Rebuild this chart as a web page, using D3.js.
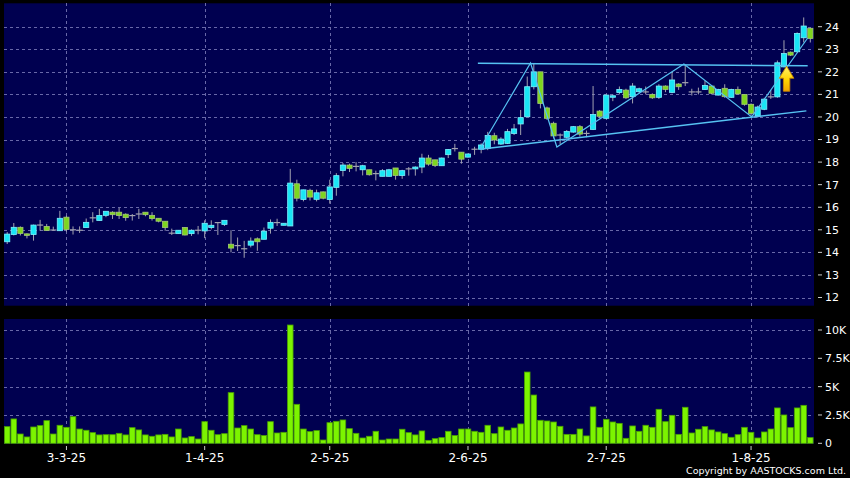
<!DOCTYPE html>
<html><head><meta charset="utf-8">
<script src="https://cdn.jsdelivr.net/npm/d3@7"></script>
<style>body{margin:0;background:#000;}svg{display:block;}</style>
</head><body>
<svg id="c" width="850" height="478"></svg>
<script>
// ---- data ----
const opens  = [14.47,14.79,15.11,14.82,14.79,15.21,15.15,14.99,14.96,15.56,15.0,14.98,15.1,15.53,15.41,15.64,15.78,15.78,15.69,15.63,15.7,15.78,15.64,15.51,15.38,
14.85,14.83,15.1,14.83,14.98,14.95,15.1,15.32,15.24,14.36,14.3,14.16,14.32,14.6,14.58,15.07,15.32,15.2,15.17,17.04,16.34,16.75,16.35,16.68,16.34,
16.88,17.63,17.87,17.81,17.66,17.66,17.49,17.37,17.37,17.74,17.41,17.7,17.7,17.78,18.18,18.1,17.84,18.33,18.6,18.44,18.22,
18.57,18.57,18.6,19.17,18.8,18.83,19.27,19.69,20.01,21.34,22.0,20.4,19.72,19.2,19.1,19.33,19.57,19.27,19.45,20.26,19.94,20.88,21.08,
21.19,20.9,21.12,21.11,21.0,20.87,21.37,21.09,21.46,21.52,21.11,21.11,21.22,21.37,20.97,21.27,20.87,21.22,21.0,20.56,
20.04,20.34,20.89,20.89,22.22,22.87,22.89,23.51,23.93];
const highs  = [14.9,15.3,15.15,14.84,15.23,15.44,15.26,15.14,15.84,15.63,15.15,15.15,15.5,15.78,15.93,15.82,15.82,15.97,15.73,15.7,15.93,15.78,15.78,15.51,15.38,
15.05,14.98,15.12,15.02,15.17,15.42,15.42,15.32,15.42,14.98,14.66,14.51,14.66,14.66,15.1,15.46,15.49,15.29,17.7,17.22,16.78,16.82,16.78,16.7,17.22,
17.51,17.96,17.93,18.0,17.88,17.66,17.62,17.69,17.7,17.74,17.66,17.78,17.81,18.37,18.32,18.1,18.2,18.58,18.81,18.44,18.38,
18.68,18.83,19.34,19.3,19.1,19.47,19.69,20.31,21.79,22.38,22.0,20.46,19.79,19.27,19.42,19.6,19.64,19.4,21.37,20.31,21.0,21.0,21.35,
21.25,21.5,21.3,21.35,21.05,21.45,21.4,22.0,21.5,22.3,21.25,21.3,21.6,21.4,21.25,21.45,21.25,21.35,21.0,20.6,
20.5,20.85,21.2,22.5,23.4,22.9,23.75,24.41,23.95];
const lows   = [14.37,14.75,14.75,14.62,14.52,14.96,14.96,14.96,14.96,14.92,14.79,14.86,15.1,15.33,15.41,15.56,15.48,15.48,15.4,15.41,15.48,15.6,15.41,15.33,14.96,
14.77,14.83,14.75,14.73,14.8,14.63,15.02,14.77,15.17,14.0,14.06,13.76,14.22,14.07,14.58,14.83,15.17,15.2,15.17,16.26,16.26,16.3,16.26,16.35,16.16,
16.51,17.37,17.56,17.59,17.41,17.4,17.19,17.37,17.37,17.22,17.26,17.4,17.4,17.51,17.84,17.78,17.84,18.18,18.47,17.93,18.2,
18.32,18.39,18.53,18.79,18.76,18.8,19.2,19.2,20.01,21.22,20.38,19.87,19.05,18.79,19.05,19.3,19.13,19.1,19.42,19.94,19.9,20.7,21.0,
20.8,20.6,21.05,21.0,20.8,20.8,21.1,21.05,21.2,21.37,20.95,21.0,21.2,21.0,20.95,20.85,20.85,21.0,20.5,20.05,
19.98,20.3,20.8,20.85,22.2,22.7,22.85,23.3,23.3];
const closes = [14.81,15.11,14.84,14.78,15.21,15.21,14.97,14.99,15.51,15.01,15.0,14.98,15.33,15.53,15.63,15.82,15.67,15.63,15.54,15.63,15.7,15.67,15.5,15.38,15.1,
14.85,14.98,14.77,14.98,14.98,15.29,15.2,15.32,15.42,14.19,14.3,14.16,14.5,14.47,14.94,15.33,15.32,15.29,17.07,16.4,16.77,16.45,16.64,16.4,16.9,
17.4,17.87,17.72,17.81,17.84,17.44,17.49,17.62,17.66,17.41,17.62,17.7,17.78,18.18,17.91,17.85,18.18,18.56,18.6,18.13,18.36,
18.57,18.76,19.18,18.98,19.02,19.35,19.47,19.97,21.34,22.0,20.6,19.94,19.16,19.2,19.36,19.57,19.24,19.27,20.11,20.03,20.97,20.94,21.22,
20.85,21.37,21.25,21.11,20.85,21.37,21.22,21.64,21.34,21.52,21.11,21.11,21.4,21.05,21.22,20.9,21.22,21.02,20.56,20.16,
20.44,20.79,20.89,22.4,22.81,22.74,23.7,24.03,23.48];
const volumes = [1470,2150,820,560,1440,1560,2000,820,1590,1410,2350,1260,1150,940,740,760,760,880,740,1380,1180,740,620,740,790,
560,1260,470,590,380,1910,1150,760,850,4470,1350,1560,1260,760,680,1910,910,970,10440,3440,1260,1030,1120,290,1820,
1940,2060,1290,880,470,620,1060,290,380,380,1240,940,740,1090,260,410,500,1060,680,1260,1260,
1060,970,1590,850,1440,1150,1350,1710,6290,4260,2030,1970,1880,1500,790,790,1260,650,3210,1410,2120,1880,1760,
440,1530,1060,1590,1410,3000,1910,2470,790,3180,910,1240,1470,1180,1000,850,530,760,1410,970,
470,1000,1260,3120,2500,1380,3120,3350,500];
const dateTickIndex = [9,30,49,70,91,113];
const dateTickLabels = ["3-3-25","1-4-25","2-5-25","2-6-25","2-7-25","1-8-25"];
const priceTicks = [12,13,14,15,16,17,18,19,20,21,22,23,24];
const volTicks = [0,2500,5000,7500,10000];
const volTickLabels = ["0","2.5K","5K","7.5K","10K"];
// drawn pattern lines, as [bar index, price]
const resistanceLine = [[71.5,22.38],[121.6,22.27]];
const supportLine = [[71.8,18.57],[121.4,20.27]];
const zigzagLine = [[71.8,18.58],[79.5,22.39],[83.5,18.67],[102.8,22.35],[113.1,20.0],[121.6,23.5]];
const arrowAt = [118.4, 22.25]; // bar index, price of arrow tip

// ---- layout ----
const svg = d3.select("#c");
const N = closes.length;
const x = d3.scaleLinear().domain([0, N-1]).range([7.2, 810.3]);
const yP = d3.scaleLinear().domain([12, 24]).range([297.5, 26.7]);
const yV = d3.scaleLinear().domain([0, 10000]).range([443.3, 330]);
const P = {l:4, r:814, t:3.3, b:305.7};
const V = {l:4, r:814, t:319, b:444};
const navy = "#000050", gridC = "#6868a8";
const cyan = "#19e6f5", cyanS = "#7cf2ff", green = "#7ed61e", greenS = "#a6c67a", gray = "#a2a2b0";

svg.append("rect").attr("width",850).attr("height",478).attr("fill","#000");
svg.append("rect").attr("x",P.l).attr("y",P.t).attr("width",P.r-P.l).attr("height",P.b-P.t).attr("fill",navy);
svg.append("rect").attr("x",V.l).attr("y",V.t).attr("width",V.r-V.l).attr("height",V.b-V.t).attr("fill",navy);

const grid = svg.append("g").attr("stroke",gridC).attr("stroke-width",1).attr("stroke-dasharray","3,3").attr("shape-rendering","crispEdges");
priceTicks.forEach(t => grid.append("line").attr("x1",P.l).attr("x2",P.r).attr("y1",Math.round(yP(t))+0.5).attr("y2",Math.round(yP(t))+0.5));
volTicks.slice(1).forEach(t => grid.append("line").attr("x1",V.l).attr("x2",V.r).attr("y1",Math.round(yV(t))+0.5).attr("y2",Math.round(yV(t))+0.5));
dateTickIndex.forEach(i => {
  const xx = Math.round(x(i))+0.5;
  grid.append("line").attr("x1",xx).attr("x2",xx).attr("y1",P.t).attr("y2",P.b);
  grid.append("line").attr("x1",xx).attr("x2",xx).attr("y1",V.t).attr("y2",V.b);
});

// right axes
const axG = svg.append("g").attr("font-family","DejaVu Sans, Verdana, sans-serif").attr("font-size",11).attr("fill","#fff");
priceTicks.forEach(t => {
  axG.append("line").attr("x1",818).attr("x2",822).attr("y1",yP(t)).attr("y2",yP(t)).attr("stroke","#ccc");
  axG.append("text").attr("x",825).attr("y",yP(t)).attr("dy","0.36em").text(t);
});
volTicks.forEach((t,k) => {
  axG.append("line").attr("x1",818).attr("x2",822).attr("y1",yV(t)).attr("y2",yV(t)).attr("stroke","#ccc");
  axG.append("text").attr("x",825).attr("y",yV(t)).attr("dy","0.36em").text(volTickLabels[k]);
});
// bottom date axis
const bx = svg.append("g").attr("font-family","DejaVu Sans, Verdana, sans-serif").attr("font-size",12).attr("fill","#fff");
dateTickIndex.forEach((i,k) => {
  bx.append("line").attr("x1",x(i)).attr("x2",x(i)).attr("y1",446).attr("y2",450).attr("stroke","#ccc");
  bx.append("text").attr("x",x(i)).attr("y",462).attr("text-anchor","middle").text(dateTickLabels[k]);
});
svg.append("text").attr("x",846).attr("y",474).attr("text-anchor","end").attr("font-family","DejaVu Sans, Verdana, sans-serif").attr("font-size",9.5).attr("fill","#fff").text("Copyright by AASTOCKS.com Ltd.");

// volume bars
const bw = 5.6;
svg.append("g").selectAll("rect").data(volumes).join("rect")
  .attr("x",(d,i)=>x(i)-bw/2).attr("width",bw)
  .attr("y",d=>yV(d)).attr("height",d=>yV(0)-yV(d))
  .attr("fill","#7cf400").attr("stroke","#4aa000").attr("stroke-width",0.8);

// candles
const cw = 5.2;
const cg = svg.append("g");
closes.forEach((c,i) => {
  const o = opens[i], h = highs[i], l = lows[i];
  const xc = x(i);
  cg.append("line").attr("x1",xc).attr("x2",xc).attr("y1",yP(h)).attr("y2",yP(l)).attr("stroke",gray).attr("stroke-width",1);
  if (Math.abs(c-o) < 0.005) {
    cg.append("line").attr("x1",xc-cw/2-0.5).attr("x2",xc+cw/2+0.5).attr("y1",yP(c)).attr("y2",yP(c)).attr("stroke",gray).attr("stroke-width",1.2);
  } else {
    const up = c > o;
    const top = yP(Math.max(o,c)), bot = yP(Math.min(o,c));
    cg.append("rect").attr("x",xc-cw/2).attr("width",cw).attr("y",top).attr("height",Math.max(1.5,bot-top))
      .attr("fill",up?cyan:green).attr("stroke",up?cyanS:greenS).attr("stroke-width",0.8);
  }
});

// pattern lines
const ln = d3.line().x(d=>x(d[0])).y(d=>yP(d[1]));
const lg = svg.append("g").attr("fill","none").attr("stroke","#56c2f2").attr("stroke-width",1.2);
lg.append("path").attr("d",ln(resistanceLine)).attr("stroke-width",1.5);
lg.append("path").attr("d",ln(supportLine)).attr("stroke-width",1.5);
lg.append("path").attr("d",ln(zigzagLine));

// arrow
const defs = svg.append("defs");
const gr = defs.append("linearGradient").attr("id","ag").attr("x1",0).attr("y1",0).attr("x2",0).attr("y2",1);
gr.append("stop").attr("offset","0%").attr("stop-color","#fff36a");
gr.append("stop").attr("offset","55%").attr("stop-color","#ffd400");
gr.append("stop").attr("offset","100%").attr("stop-color","#f2a400");
const ax0 = x(arrowAt[0]), ay0 = yP(arrowAt[1]);
svg.append("path")
  .attr("d",`M${ax0},${ay0} L${ax0+7.3},${ay0+12} L${ax0+3.2},${ay0+12} L${ax0+3.2},${ay0+25} L${ax0-3.2},${ay0+25} L${ax0-3.2},${ay0+12} L${ax0-7.3},${ay0+12} Z`)
  .attr("fill","url(#ag)").attr("stroke","#c88400").attr("stroke-width",0.9).attr("stroke-linejoin","round");
</script>
</body></html>
